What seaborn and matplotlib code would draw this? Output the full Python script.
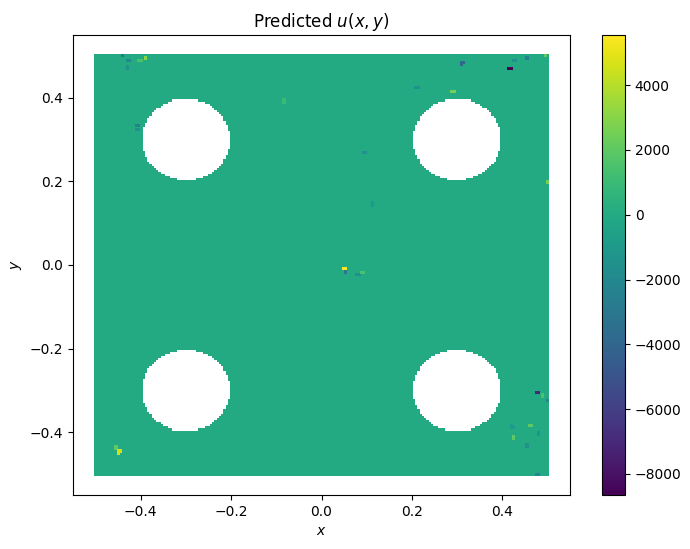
import numpy as np
import pandas as pd
import matplotlib
matplotlib.use("Agg")
import matplotlib.pyplot as plt
import seaborn as sns

# ---- data ----
n_grid = 200
x_range = (-0.5, 0.5)
y_range = (-0.5, 0.5)
hole_centers_x = [-0.3, 0.3, -0.3, 0.3]
hole_centers_y = [0.3, 0.3, -0.3, -0.3]
hole_radius = 0.099
background_value = 0.0

# spots where the prediction deviates from ~0 (x, y, value)
spot_x = [-0.439, -0.428, -0.402, -0.390, -0.430, -0.408, -0.406,
          0.311, 0.417, 0.455, 0.428, 0.494, 0.291, 0.211, 0.499,
          0.050, 0.052, 0.090, 0.081, 0.096, 0.114, -0.083,
          -0.448, -0.455, 0.477, 0.490, 0.499,
          0.463, 0.424, 0.479, 0.455, 0.421, 0.477]
spot_y = [0.500, 0.490, 0.490, 0.495, 0.471, 0.335, 0.323,
          0.483, 0.469, 0.495, 0.490, 0.500, 0.414, 0.426, 0.199,
          -0.007, -0.014, -0.019, -0.024, 0.268, 0.146, 0.392,
          -0.447, -0.438, -0.304, -0.313, -0.325,
          -0.383, -0.411, -0.402, -0.431, -0.388, -0.500]
spot_u = [-3000, -2000, 1500, 3000, -1500, -2500, -1500,
          -4000, -8650, -2500, -1500, 2000, 2500, -1500, 2500,
          5550, -3000, 1500, -1500, -1500, -1000, 1000,
          4500, 2000, -7000, 1500, -2000,
          2000, 2000, -1500, -1500, -1000, -2000]
u_min, u_max = -8650, 5550
spot_radius = 0.004

# ---- build table ----
gx, gy = np.meshgrid(np.linspace(*x_range, n_grid), np.linspace(*y_range, n_grid))
gx = gx.ravel(); gy = gy.ravel()
keep = np.ones_like(gx, dtype=bool)
for cx, cy in zip(hole_centers_x, hole_centers_y):
    keep &= (gx - cx) ** 2 + (gy - cy) ** 2 >= hole_radius ** 2
gx = gx[keep]; gy = gy[keep]
u = np.full(gx.shape, background_value)
for sx, sy, su in zip(spot_x, spot_y, spot_u):
    d = np.hypot(gx - sx, gy - sy)
    near = d <= spot_radius
    if not near.any():
        near = d == d.min()
    u[near] = su

df = pd.DataFrame({"x": gx, "y": gy, "u": u})
df["absu"] = df["u"].abs()
df = df.sort_values("absu", kind="stable")

# ---- plot ----
fig = plt.figure(figsize=(6.9, 5.49), dpi=100)
ax = fig.add_axes([73 / 690, 54 / 549, 497 / 690, 460 / 549])
cax = fig.add_axes([602 / 690, 54 / 549, 23 / 690, 460 / 549])

norm = matplotlib.colors.Normalize(vmin=u_min, vmax=u_max)
sns.scatterplot(data=df, x="x", y="y", hue="u", palette="viridis",
                hue_norm=norm, marker="s", s=5, linewidth=0,
                legend=False, ax=ax)
ax.set_title("Predicted $u(x,y)$")
ax.set_xlabel("$x$")
ax.set_ylabel("$y$")

sm = matplotlib.cm.ScalarMappable(norm=norm, cmap="viridis")
fig.colorbar(sm, cax=cax)

fig.savefig("out.png", dpi=100)
